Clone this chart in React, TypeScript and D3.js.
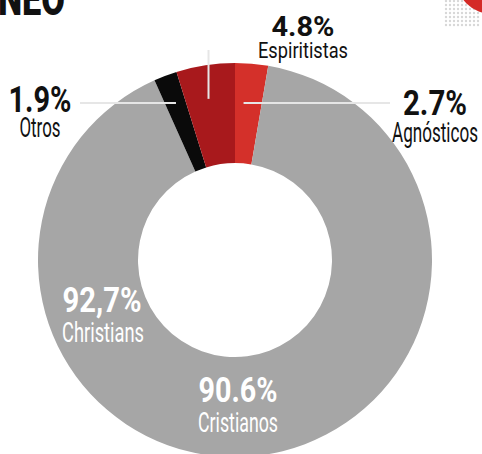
import React from "react";
import * as d3 from "d3";

const categories = ["Agnósticos", "Cristianos", "Otros", "Espiritistas"];
const values = [2.7, 90.6, 1.9, 4.8];
const valueLabels = ["2.7%", "90.6%", "1.9%", "4.8%"];
const sliceColors = ["#d4302a", "#a6a6a6", "#0a0a0a", "#a8191c"];
const englishLabel = "Christians";
const englishValue = "92,7%";
const titleText = "NEO";

const W = 482;
const H = 454;
const cx = 235;
const cy = 260;
const outerR = 197;
const innerR = 97;

// label layout
const labelLayout: Record<string, any> = {
  "Agnósticos": { x: 435, vy: 115, vs: 35, vw: 64, ny: 142, ns: 27, nw: 86, fill: "#111" },
  "Cristianos": { x: 238, vy: 402, vs: 35, vw: 79, ny: 432, ns: 28, nw: 80, fill: "#fff" },
  "Otros": { x: 40, vy: 112, vs: 37, vw: 63, ny: 137, ns: 27, nw: 41, fill: "#111" },
  "Espiritistas": { x: 303, vy: 36, vs: 27, vw: 63, ny: 58, ns: 22, nw: 90, fill: "#111" },
};

const FONT = "Roboto, 'DejaVu Sans', sans-serif";

export default function App() {
  const pie = d3.pie<number>().sort(null).value((d) => d)(values);
  const arc = d3.arc<d3.PieArcDatum<number>>().innerRadius(innerR).outerRadius(outerR);

  const pt = (i: number, r: number) => {
    const a = (pie[i].startAngle + pie[i].endAngle) / 2;
    return [cx + r * Math.sin(a), cy - r * Math.cos(a)];
  };
  const espEnd = pt(3, 163);
  const otrEnd = pt(2, 167);
  const agnEnd = pt(0, 160);

  const dots: [number, number][] = [];
  for (let x = 446; x < 482; x += 4) for (let y = 1; y < 26; y += 4) dots.push([x, y]);

  return (
    <svg width={W} height={H} style={{ position: "absolute", left: 0, top: 0, background: "#fff" }}>
      <rect width={W} height={H} fill="#fff" />
      {dots.map(([x, y], i) => (
        <circle key={i} cx={x} cy={y} r={1.2} fill="#d8d8d8" />
      ))}
      <circle cx={492} cy={-22} r={36} fill="#d42a26" />
      <text x={-2} y={15} fontFamily={FONT} fontWeight={900} fontSize={46} textLength={67} lengthAdjust="spacingAndGlyphs" fill="#111">
        {titleText}
      </text>
      <g transform={`translate(${cx},${cy})`}>
        {pie.map((p, i) => (
          <path key={categories[i]} d={arc(p) || ""} fill={sliceColors[i]} />
        ))}
      </g>
      {/* leader lines */}
      <line x1={espEnd[0] - 2} x2={espEnd[0] - 2} y1={50} y2={espEnd[1]} stroke="#e6e6e6" strokeWidth={2} />
      <line x1={80} x2={otrEnd[0]} y1={103} y2={103} stroke="#e6e6e6" strokeWidth={2} />
      <line x1={agnEnd[0] - 5} x2={390} y1={103} y2={103} stroke="#e6e6e6" strokeWidth={2} />
      {categories.map((c, i) => {
        const L = labelLayout[c];
        return (
          <g key={c} fontFamily={FONT} fill={L.fill} textAnchor="middle">
            <text x={L.x} y={L.vy} fontSize={L.vs} fontWeight={700} textLength={L.vw} lengthAdjust="spacingAndGlyphs">
              {valueLabels[i]}
            </text>
            <text x={L.x} y={L.ny} fontSize={L.ns} textLength={L.nw} lengthAdjust="spacingAndGlyphs">
              {c}
            </text>
          </g>
        );
      })}
      <g fontFamily={FONT} fill="#fff" textAnchor="middle">
        <text x={102} y={312} fontSize={35} fontWeight={700} textLength={79} lengthAdjust="spacingAndGlyphs">
          {englishValue}
        </text>
        <text x={103} y={342} fontSize={27} textLength={82} lengthAdjust="spacingAndGlyphs">
          {englishLabel}
        </text>
      </g>
    </svg>
  );
}
